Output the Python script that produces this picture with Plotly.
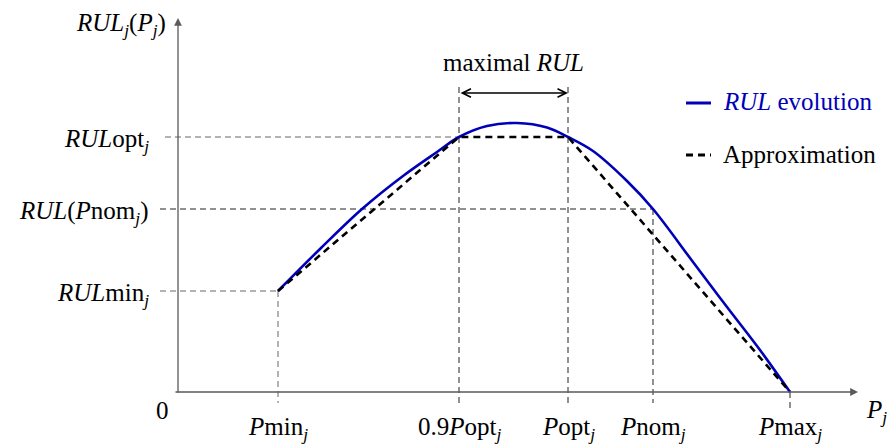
import plotly.graph_objects as go

# ---- data (arbitrary conceptual units) ----
P_min, P_09opt, P_opt, P_nom, P_max = 1.00, 2.81, 3.90, 4.75, 6.12
RUL_min, RUL_nom, RUL_opt = 1.01, 1.83, 2.55

rul_x = [1.00, 1.42, 1.84, 2.25, 2.59, 2.81, 3.09, 3.39, 3.69, 3.90, 4.15, 4.49, 4.75, 5.15, 5.49, 5.82, 6.12]
rul_y = [1.01, 1.43, 1.83, 2.16, 2.40, 2.55, 2.66, 2.69, 2.645, 2.55, 2.41, 2.11, 1.83, 1.30, 0.85, 0.42, 0.00]

approx_x = [P_min, P_09opt, P_opt, P_max]
approx_y = [RUL_min, RUL_opt, RUL_opt, 0.0]

x_ticks = [P_min, P_09opt, P_opt, P_nom, P_max]
x_tick_labels = ["<i>P</i>min<sub><i>j</i></sub>", "0.9<i>P</i>opt<sub><i>j</i></sub>",
                 "<i>P</i>opt<sub><i>j</i></sub>", "<i>P</i>nom<sub><i>j</i></sub>",
                 "<i>P</i>max<sub><i>j</i></sub>"]
y_ticks = [RUL_opt, RUL_nom, RUL_min]
y_tick_labels = ["<i>RUL</i>opt<sub><i>j</i></sub>", "<i>RUL</i>(<i>P</i>nom<sub><i>j</i></sub>)",
                 "<i>RUL</i>min<sub><i>j</i></sub>"]

FONT = "Liberation Serif"
FS = 25
BLUE = "rgb(0,0,185)"
AXC = "#5a5a5a"

fig = go.Figure()
fig.add_trace(go.Scatter(x=rul_x, y=rul_y, mode="lines", line=dict(color=BLUE, width=2.6, shape="spline", smoothing=1.0),
                         hoverinfo="skip", showlegend=False))
fig.add_trace(go.Scatter(x=approx_x, y=approx_y, mode="lines", line=dict(color="black", width=2.6, dash="7px,5px"),
                         hoverinfo="skip", showlegend=False))

shapes = []
def dline(x0, y0, x1, y1, color="#333333"):
    shapes.append(dict(type="line", xref="x", yref="y", x0=x0, y0=y0, x1=x1, y1=y1,
                       line=dict(color=color, width=1, dash="6px,4px"), layer="below"))

# horizontal guides
dline(-0.13, RUL_opt, P_09opt, RUL_opt, "#666666")
dline(-0.18, RUL_nom, P_nom, RUL_nom, "#222222")
dline(-0.18, RUL_min, P_min, RUL_min, "#666666")
# vertical guides
dline(P_min, RUL_min, P_min, -0.11, "#666666")
dline(P_09opt, 3.05, P_09opt, -0.11, "#222222")
dline(P_opt, 3.05, P_opt, -0.11, "#222222")
dline(P_nom, RUL_nom, P_nom, -0.11, "#222222")
dline(P_max, 0, P_max, -0.16, "#222222")

# legend samples (paper coords)
shapes.append(dict(type="line", xref="paper", yref="paper", x0=686/892, x1=711/892, y0=1-103/448, y1=1-103/448,
                   line=dict(color=BLUE, width=3)))
shapes.append(dict(type="line", xref="paper", yref="paper", x0=686/892, x1=711/892, y0=1-155/448, y1=1-155/448,
                   line=dict(color="black", width=3, dash="7px,5px")))

ann = []
# axes with arrows
ann.append(dict(x=6.80, y=0, ax=-0.04, ay=0, xref="x", yref="y", axref="x", ayref="y", text="",
                showarrow=True, arrowhead=2, arrowsize=1.2, arrowwidth=1.3, arrowcolor=AXC))
ann.append(dict(x=0, y=3.74, ax=0, ay=-0.02, xref="x", yref="y", axref="x", ayref="y", text="",
                showarrow=True, arrowhead=2, arrowsize=1.2, arrowwidth=1.3, arrowcolor=AXC))
# maximal RUL double arrow
ann.append(dict(x=P_opt, y=2.99, ax=P_09opt, ay=2.99, xref="x", yref="y", axref="x", ayref="y", text="",
                showarrow=True, arrowhead=5, startarrowhead=5, arrowside="end+start", arrowsize=1.3,
                startarrowsize=1.3, arrowwidth=1.3, arrowcolor="black"))
ann.append(dict(x=(P_09opt + P_opt) / 2, y=3.30, xref="x", yref="y", text="maximal <i>RUL</i>",
                showarrow=False, font=dict(family=FONT, size=FS, color="black")))

# tick labels
for xv, lab in zip(x_ticks, x_tick_labels):
    ann.append(dict(x=xv, y=-0.19, xref="x", yref="y", text=lab, showarrow=False, yanchor="top",
                    xanchor="center", font=dict(family=FONT, size=FS, color="black")))
for yv, lab in zip(y_ticks, y_tick_labels):
    ann.append(dict(x=-0.27, y=yv - 0.03, xref="x", yref="y", text=lab, showarrow=False, yanchor="middle",
                    xanchor="right", font=dict(family=FONT, size=FS, color="black")))
ann.append(dict(x=-0.16, y=-0.18, xref="x", yref="y", text="0", showarrow=False,
                font=dict(family=FONT, size=FS, color="black")))
ann.append(dict(x=6.98, y=-0.19, xref="x", yref="y", text="<i>P</i><sub><i>j</i></sub>", showarrow=False,
                font=dict(family=FONT, size=FS, color="black")))
ann.append(dict(x=-0.10, y=3.68, xref="x", yref="y", text="<i>RUL</i><sub><i>j</i></sub>(<i>P</i><sub><i>j</i></sub>)",
                showarrow=False, xanchor="right", font=dict(family=FONT, size=FS, color="black")))
# legend texts
ann.append(dict(x=721/892, y=1-102/448, xref="paper", yref="paper", text="<i>RUL</i> evolution", showarrow=False,
                xanchor="left", yanchor="middle", font=dict(family=FONT, size=FS, color=BLUE)))
ann.append(dict(x=721/892, y=1-154/448, xref="paper", yref="paper", text="Approximation", showarrow=False,
                xanchor="left", yanchor="middle", font=dict(family=FONT, size=FS, color="black")))

fig.update_layout(
    width=892, height=448, margin=dict(l=0, r=0, t=0, b=0),
    paper_bgcolor="white", plot_bgcolor="white",
    xaxis=dict(range=[-1.78, 7.14], visible=False, fixedrange=True),
    yaxis=dict(range=[-0.56, 3.92], visible=False, fixedrange=True),
    shapes=shapes, annotations=ann, showlegend=False,
)

fig.write_html("out.html")
